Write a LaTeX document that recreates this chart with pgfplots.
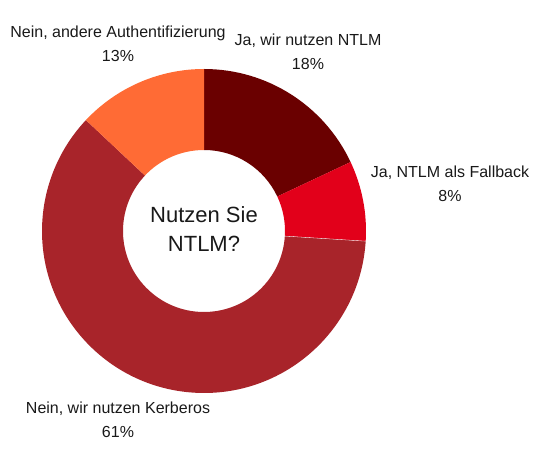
\documentclass[border=0pt]{standalone}
\usepackage{pgfplots}
\pgfplotsset{compat=1.18}
\usepackage{fontspec}
\setmainfont{Liberation Sans}
\definecolor{cA}{HTML}{6A0000}
\definecolor{cB}{HTML}{E2001A}
\definecolor{cC}{HTML}{A8242A}
\definecolor{cD}{HTML}{FF6B35}
% data (percent, clockwise from 12 o'clock)
\def\vA{18}\def\vB{8}\def\vC{61}\def\vD{13}
\pgfmathsetmacro\aO{90}
\pgfmathsetmacro\aA{\aO-3.6*\vA}
\pgfmathsetmacro\aB{\aA-3.6*\vB}
\pgfmathsetmacro\aC{\aB-3.6*\vC}
\pgfmathsetmacro\aD{\aC-3.6*\vD}
\def\cx{204}\def\cy{231}\def\ro{162}\def\ri{81}
\newcommand\slice[3]{%
  \fill[#3] (axis cs:{\cx+\ro*cos(#1)},{\cy+\ro*sin(#1)})
    arc[start angle=#1, end angle=#2, radius=\ro pt]
    -- (axis cs:{\cx+\ri*cos(#2)},{\cy+\ri*sin(#2)})
    arc[start angle=#2, end angle=#1, radius=\ri pt] -- cycle;}
\begin{document}
\begin{tikzpicture}
\begin{axis}[
  x=1pt, y=1pt, xmin=0, xmax=540, ymin=0, ymax=462,
  hide axis, scale only axis, clip=false,
  anchor=origin, at={(0,0)}]
\path (axis cs:0,0) rectangle (axis cs:540,462);
\slice{\aO}{\aA}{cA}
\slice{\aA}{\aB}{cB}
\slice{\aB}{\aC}{cC}
\slice{\aC}{\aD}{cD}
\draw[white, line width=0.3pt] (axis cs:{\cx+\ri*cos(\aB)},{\cy+\ri*sin(\aB)}) -- (axis cs:{\cx+\ro*cos(\aB)},{\cy+\ro*sin(\aB)});
\node[font=\fontsize{22}{29}\selectfont, align=center, text=black!90] at (axis cs:204,233) {Nutzen Sie\\NTLM?};
\node[font=\fontsize{16}{24}\selectfont, align=center, text=black!90] at (axis cs:118,418) {Nein, andere Authentifizierung\\13\%};
\node[font=\fontsize{16}{24}\selectfont, align=center, text=black!90] at (axis cs:308,410) {Ja, wir nutzen NTLM\\18\%};
\node[font=\fontsize{16}{24}\selectfont, align=center, text=black!90] at (axis cs:450,278) {Ja, NTLM als Fallback\\8\%};
\node[font=\fontsize{16}{24}\selectfont, align=center, text=black!90] at (axis cs:118,42) {Nein, wir nutzen Kerberos\\61\%};
\end{axis}
\end{tikzpicture}
\end{document}
